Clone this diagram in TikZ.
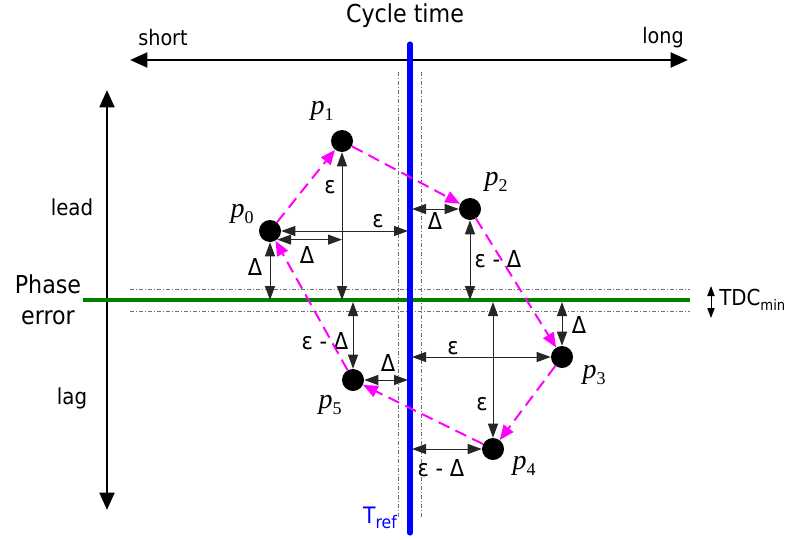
\documentclass[tikz,border=0pt]{standalone}
\usepackage{fontspec}
\setmainfont{DejaVu Sans Condensed}
\newfontfamily\pfont{Liberation Serif}
\usepackage{tikz}
\usetikzlibrary{arrows.meta, calc}
\definecolor{cycmagenta}{RGB}{255,0,255}
\definecolor{trefblue}{RGB}{0,0,255}
\definecolor{phasegreen}{RGB}{0,128,0}
\definecolor{guidegrey}{RGB}{110,110,110}
\newcommand{\plab}[1]{{\pfont\fontsize{21}{21}\selectfont\itshape p\/\raisebox{-4.5pt}{\upshape\fontsize{13.5}{13.5}\selectfont #1}}}

\begin{document}
\begin{tikzpicture}[
    x=0.75pt, y=-0.75pt,
    every node/.style={inner sep=0pt},
    dot/.style={circle, fill=black, minimum size=16.5pt, inner sep=0pt},
    dim arr/.style={{Triangle[length=10.5pt,width=7.5pt]}-{Triangle[length=10.5pt,width=7.5pt]},
                    line width=0.75pt, draw=black!85},
    path arr/.style={-{Triangle[length=11pt,width=9pt]}, line width=1.5pt,
                     cycmagenta, dash pattern=on 9pt off 5pt},
    axis arr/.style={{Triangle[length=13pt,width=11pt]}-{Triangle[length=13pt,width=11pt]},
                     line width=2.2pt},
    guide/.style={guidegrey, line width=0.55pt,
                  dash pattern=on 3pt off 1.5pt on 0.75pt off 1.5pt},
    lbl/.style={font=\fontsize{17.5}{18}\selectfont},
  ]
  \useasboundingbox (0,0) rectangle (787,539);

  % ============ AXES ============
  \node[font=\fontsize{18.5}{20}\selectfont] (title) at (405,16) {Cycle time};
  \node[font=\fontsize{16}{18}\selectfont] (short) at (163,38) {short};
  \node[font=\fontsize{16}{18}\selectfont] (long) at (663,38) {long};
  \coordinate (ct left) at (130,60);
  \coordinate (ct right) at (688,60);
  \draw[axis arr] (ct left) -- (ct right);

  \coordinate (pe top) at (107,90);
  \coordinate (pe bot) at (107,510);
  \draw[axis arr] (pe top) -- (pe bot);
  \node[font=\fontsize{16.5}{18}\selectfont] (lead) at (72,207) {lead};
  \node[font=\fontsize{18.5}{23}\selectfont, align=center] (pherr) at (48,300) {Phase\\error};
  \node[font=\fontsize{16.5}{18}\selectfont] (lag) at (72,398) {lag};

  % ============ GUIDES ============
  \draw[guide] (398,72) -- (398,518);
  \draw[guide] (421,72) -- (421,518);
  \draw[guide] (130,289) -- (690,289);
  \draw[guide] (130,311) -- (690,311);

  \coordinate (phase) at (83,300);
  \draw[phasegreen, line width=2.6pt] (phase) -- (690,300);

  \coordinate (tref) at (410,44);
  \draw[trefblue, line width=3.8pt, line cap=round] (tref) -- (410,533);
  \node[text=trefblue, font=\fontsize{17}{18}\selectfont] (treflbl) at (380,518)
    {T\raisebox{-4pt}{\fontsize{13}{13}\selectfont ref}};

  % TDC window
  \coordinate (tdc top) at (711,286);
  \coordinate (tdc bot) at (711,318);
  \draw[{Triangle[length=7.5pt,width=5.5pt]}-{Triangle[length=7.5pt,width=5.5pt]}, line width=0.75pt]
    (tdc top) -- (tdc bot);
  \node[anchor=west, font=\fontsize{16.5}{18}\selectfont] (tdc) at (719,300)
    {TDC\raisebox{-3.5pt}{\fontsize{11}{11}\selectfont min}};

  % ============ CYCLE POINTS ============
  \node[dot] (p0) at (270,231) {};
  \node[dot] (p1) at (342,141) {};
  \node[dot] (p2) at (470,209) {};
  \node[dot] (p3) at (562,357) {};
  \node[dot] (p4) at (493,449) {};
  \node[dot] (p5) at (353,380) {};

  \node (lp0) at (242,214) {\plab{0}};
  \node (lp1) at (322,111) {\plab{1}};
  \node (lp2) at (496,182) {\plab{2}};
  \node (lp3) at (594,375) {\plab{3}};
  \node (lp4) at (524,466) {\plab{4}};
  \node (lp5) at (330,405) {\plab{5}};

  % ============ MEASURES ============
  \draw[dim arr] (p1) -- (p1 |- phase);
  \draw[dim arr, shorten >=1.5pt] (p0) -- (p0 -| tref);
  \draw[dim arr] (p0.-50) -- (p1 |- p0.-50);
  \draw[dim arr] (p0) -- (p0 |- phase);
  \draw[dim arr, shorten <=1.5pt] (p2 -| tref) -- (p2);
  \draw[dim arr] (p2) -- (p2 |- phase);
  \draw[dim arr, shorten <=1.5pt] (p3 |- phase) -- (p3);
  \draw[dim arr, shorten <=1.5pt] (p3 -| tref) -- (p3);
  \draw[dim arr, shorten <=1.5pt] (p4 |- phase) -- (p4);
  \draw[dim arr, shorten <=1.5pt] (p4 -| tref) -- (p4);
  \draw[dim arr, shorten <=1.5pt] (p5 |- phase) -- (p5);
  \draw[dim arr, shorten >=1.5pt] (p5) -- (p5 -| tref);

  \node[lbl] (e1) at (330,187) {ε};
  \node[lbl] (e0) at (378,221) {ε};
  \node[lbl] (d0h) at (307,255) {Δ};
  \node[lbl] (d0v) at (255,267) {Δ};
  \node[lbl] (d2h) at (435,221) {Δ};
  \node[lbl] (ed2) at (498,259) {ε - Δ};
  \node[lbl] (ed5) at (325,341) {ε - Δ};
  \node[lbl] (d5h) at (388,363) {Δ};
  \node[lbl] (e3) at (453,348) {ε};
  \node[lbl] (e4) at (482,404) {ε};
  \node[lbl] (ed4) at (441,468) {ε - Δ};
  \node[lbl] (d3v) at (579,325) {Δ};

  % ============ CYCLE PATH ============
  \draw[path arr] (p0) -- (p1);
  \draw[path arr] (p1) -- (p2);
  \draw[path arr] (p2) -- (p3);
  \draw[path arr] (p3) -- (p4);
  \draw[path arr] (p4) -- (p5);
  \draw[path arr] (p5) -- (p0);

\end{tikzpicture}
\end{document}
